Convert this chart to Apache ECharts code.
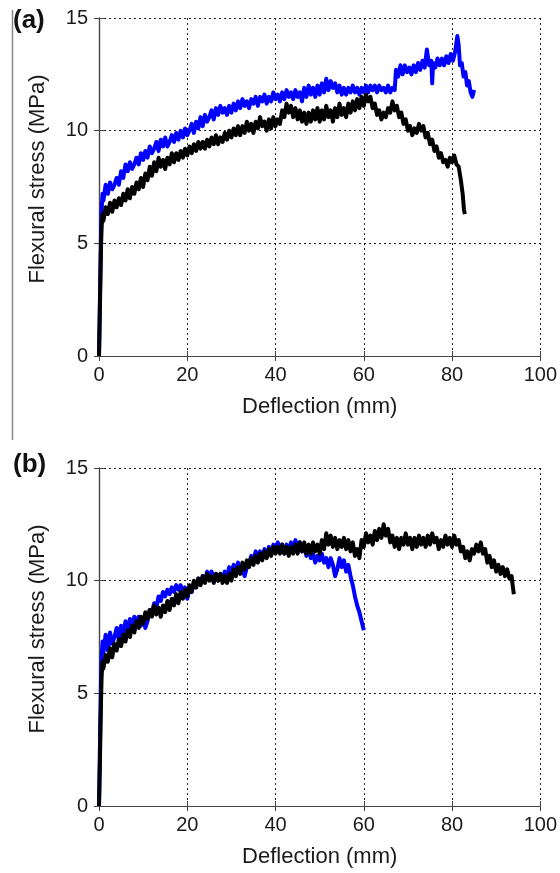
<!DOCTYPE html>
<html>
<head>
<meta charset="utf-8">
<script src="https://cdn.jsdelivr.net/npm/echarts@6/dist/echarts.min.js"></script>
<style>html,body{margin:0;padding:0;background:#fff}#c{width:560px;height:873px}</style>
</head>
<body>
<div id="c"></div>
<script>
var xTicks = [0, 20, 40, 60, 80, 100];
var yTicks = [0, 5, 10, 15];
var panelLabels = ['(a)', '(b)'];
var xTitle = 'Deflection (mm)';
var yTitle = 'Flexural stress (MPa)';

var blueA = [[0,0],[0.15,1.8],[0.3,3.6],[0.45,5.3],[0.6,6.5],[0.8,7.2],[1,6.9],[1.5,7.6],[2,7.2],[2.5,7.7],[3,7.4],[3.5,7.6],[4,7.9],[4.5,7.6],[5,8.2],[5.5,7.9],[6,8.5],[6.5,8.2],[7,8.6],[7.5,8.3],[8,8.5],[8.5,8.8],[9,8.5],[9.5,9.0],[10,8.7],[10.5,9.1],[11,8.8],[11.5,9.3],[12,9.0],[12.5,9.2],[13,9.5],[13.5,9.1],[14,9.6],[14.5,9.3],[15,9.7],[15.5,9.3],[16,9.5],[16.5,9.8],[17,9.5],[17.5,9.9],[18,9.6],[18.5,10.0],[19,9.7],[19.5,10.1],[20,9.8],[20.5,10.0],[21,10.3],[21.5,9.9],[22,10.4],[22.5,10.1],[23,10.6],[23.5,10.2],[24,10.7],[24.5,10.4],[25,10.6],[25.5,10.9],[26,10.5],[26.5,11.0],[27,10.7],[27.5,11.1],[28,10.8],[28.5,11.0],[29,10.7],[29.5,11.1],[30,10.8],[30.5,11.2],[31,10.9],[31.5,11.3],[32,11.0],[32.5,11.4],[33,11.1],[33.5,11.3],[34,11.0],[34.5,11.4],[35,11.2],[35.5,11.5],[36,11.1],[36.5,11.5],[37,11.3],[37.5,11.6],[38,11.2],[38.5,11.5],[39,11.3],[39.5,11.7],[40,11.4],[40.5,11.6],[41,11.3],[41.5,11.7],[42,11.4],[42.5,11.8],[43,11.5],[43.5,11.7],[44,11.4],[44.5,11.8],[45,11.5],[45.5,11.7],[46,11.3],[46.5,11.9],[47,11.5],[47.5,12.0],[48,11.6],[48.5,11.9],[49,11.5],[49.5,12.0],[50,11.6],[50.5,12.1],[51,11.7],[51.5,12.3],[52,11.8],[52.5,12.2],[53,11.9],[53.5,12.1],[54,11.7],[54.5,12.0],[55,11.6],[55.5,11.9],[56,11.6],[56.5,11.9],[57,11.7],[57.5,12.0],[58,11.7],[58.5,11.9],[59,11.6],[59.5,11.9],[60,11.7],[60.5,12.0],[61,11.7],[61.5,12.0],[62,11.8],[62.5,12.0],[63,11.7],[63.5,12.0],[64,11.8],[64.5,11.9],[65,11.7],[65.5,12.0],[66,11.7],[66.5,11.9],[67,11.8],[67.3,12.7],[67.8,12.4],[68.3,12.9],[68.8,12.5],[69.3,12.9],[69.8,12.6],[70.3,12.8],[70.8,12.5],[71.3,12.9],[71.8,12.6],[72.3,13.0],[72.8,12.7],[73.3,13.1],[73.8,12.8],[74.3,13.6],[74.8,12.9],[75.3,13.1],[75.5,12.1],[75.7,13.0],[76.2,12.8],[76.7,13.2],[77.2,12.9],[77.7,13.2],[78.2,12.9],[78.7,13.3],[79.2,13.0],[79.7,13.4],[80.2,13.1],[80.7,13.5],[81.2,14.2],[81.5,13.8],[81.8,12.9],[82.2,13.0],[82.6,12.4],[83.0,12.6],[83.4,12.0],[83.8,12.2],[84.2,11.7],[84.6,11.5],[85.0,11.8]];

var blackA = [[0,0],[0.15,1.5],[0.3,3.2],[0.45,4.8],[0.6,5.8],[0.8,6.3],[1,6.0],[1.5,6.6],[2,6.3],[2.5,6.8],[3,6.4],[3.5,6.9],[4,6.6],[4.5,7.0],[5,6.7],[5.5,7.2],[6,6.9],[6.5,7.4],[7,7.0],[7.5,7.5],[8,7.2],[8.5,7.7],[9,7.4],[9.5,7.9],[10,7.5],[10.5,8.1],[11,7.8],[11.5,8.4],[12,8.0],[12.5,8.6],[13,8.2],[13.5,8.8],[14,8.4],[14.5,8.7],[15,8.3],[15.5,8.8],[16,8.5],[16.5,9.0],[17,8.6],[17.5,9.0],[18,8.7],[18.5,9.1],[19,8.8],[19.5,9.2],[20,8.9],[20.5,9.3],[21,9.0],[21.5,9.4],[22,9.1],[22.5,9.5],[23,9.2],[23.5,9.5],[24,9.2],[24.5,9.6],[25,9.3],[25.5,9.7],[26,9.4],[26.5,9.8],[27,9.4],[27.5,9.7],[28,9.5],[28.5,9.9],[29,9.6],[29.5,10.0],[30,9.7],[30.5,10.1],[31,9.8],[31.5,10.2],[32,9.8],[32.5,10.2],[33,9.9],[33.5,10.4],[34,10.0],[34.5,10.3],[35,9.9],[35.5,10.4],[36,10.1],[36.5,10.6],[37,10.2],[37.5,10.4],[38,10.0],[38.5,10.5],[39,10.1],[39.5,10.6],[40,10.2],[40.5,10.5],[41,10.3],[41.5,10.9],[42,10.6],[42.5,11.2],[43,10.8],[43.5,11.1],[44,10.6],[44.5,11.0],[45,10.5],[45.5,10.9],[46,10.4],[46.5,10.8],[47,10.3],[47.5,10.8],[48,10.4],[48.5,10.9],[49,10.5],[49.5,11.0],[50,10.4],[50.5,10.9],[51,10.5],[51.5,11.1],[52,10.6],[52.5,10.9],[53,10.4],[53.5,11.0],[54,10.6],[54.5,11.2],[55,10.7],[55.5,11.0],[56,10.6],[56.5,11.2],[57,10.8],[57.5,11.3],[58,10.9],[58.5,11.4],[59,11.0],[59.5,11.5],[60,11.1],[60.5,11.6],[61,11.3],[61.5,11.5],[62,11.0],[62.5,11.2],[63,10.7],[63.5,10.9],[64,10.5],[64.5,10.8],[65,10.6],[65.5,11.0],[66,10.8],[66.5,11.3],[67,10.9],[67.5,11.1],[68,10.6],[68.5,10.8],[69,10.3],[69.5,10.5],[70,10.0],[70.5,10.2],[71,9.8],[71.5,10.1],[72,9.9],[72.5,10.3],[73,10.0],[73.5,10.2],[74,9.7],[74.5,9.9],[75,9.4],[75.5,9.6],[76,9.1],[76.5,9.3],[77,8.8],[77.5,9.0],[78,8.6],[78.5,8.7],[79,8.4],[79.5,8.8],[80,8.6],[80.5,8.9],[81,8.5],[81.5,8.4],[82,7.8],[82.4,7.2],[82.7,6.5],[82.9,6.3]];

var blueB = [[0,0],[0.15,1.8],[0.3,3.8],[0.45,5.5],[0.6,6.6],[0.8,7.3],[1,6.8],[1.5,7.6],[2,6.9],[2.5,7.7],[3,7.2],[3.5,7.5],[4,7.9],[4.5,7.4],[5,8.0],[5.5,7.6],[6,8.2],[6.5,7.8],[7,8.3],[7.5,8.0],[8,8.4],[8.5,8.1],[9,8.4],[9.5,8.0],[10,8.3],[10.5,7.9],[11,8.2],[11.5,8.7],[12,8.6],[12.5,9.0],[13,8.8],[13.5,9.3],[14,9.1],[14.5,9.5],[15,9.3],[15.5,9.6],[16,9.4],[16.5,9.7],[17,9.5],[17.5,9.8],[18,9.6],[18.5,9.8],[19,9.5],[19.5,9.7],[20,9.2],[20.5,9.6],[21,9.5],[21.5,9.9],[22,9.7],[22.5,10.1],[23,9.9],[23.5,10.2],[24,10.0],[24.5,10.4],[25,10.2],[25.5,10.4],[26,10.1],[26.5,10.3],[27,10.0],[27.5,10.3],[28,10.1],[28.5,10.4],[29,10.2],[29.5,10.6],[30,10.3],[30.5,10.7],[31,10.5],[31.5,10.8],[32,10.4],[32.5,10.5],[33,10.2],[33.5,10.6],[34,10.8],[34.5,11.1],[35,10.9],[35.5,11.3],[36,11.0],[36.5,11.3],[37,11.0],[37.5,11.4],[38,11.1],[38.5,11.5],[39,11.2],[39.5,11.6],[40,11.3],[40.5,11.7],[41,11.4],[41.5,11.6],[42,11.2],[42.5,11.6],[43,11.3],[43.5,11.7],[44,11.4],[44.5,11.8],[45,11.5],[45.5,11.7],[46,11.3],[46.5,11.5],[47,11.1],[47.5,11.4],[48,11.0],[48.5,11.2],[49,10.8],[49.5,11.1],[50,10.9],[50.5,11.2],[51,10.8],[51.5,11.0],[52,10.6],[52.5,11.0],[53,10.7],[53.5,10.2],[54,10.5],[54.5,11.0],[55,10.6],[55.5,10.9],[56,10.4],[56.5,10.7],[57,10.2],[57.5,9.8],[58,9.3],[58.5,8.9],[59,8.6],[59.5,8.2],[60,7.8]];

var blackB = [[0,0],[0.15,1.4],[0.3,3.0],[0.45,4.6],[0.6,5.8],[0.8,6.4],[1,6.1],[1.5,6.7],[2,6.4],[2.5,7.0],[3,6.6],[3.5,7.2],[4,6.9],[4.5,7.4],[5,7.1],[5.5,7.6],[6,7.3],[6.5,7.8],[7,7.5],[7.5,8.0],[8,7.7],[8.5,8.2],[9,7.9],[9.5,8.4],[10,8.1],[10.5,8.6],[11,8.3],[11.5,8.7],[12,8.4],[12.5,8.9],[13,8.5],[13.5,8.8],[14,8.4],[14.5,8.9],[15,8.6],[15.5,9.1],[16,8.7],[16.5,9.2],[17,8.9],[17.5,9.4],[18,9.0],[18.5,9.5],[19,9.2],[19.5,9.6],[20,9.3],[20.5,9.8],[21,9.5],[21.5,10.0],[22,9.7],[22.5,10.1],[23,9.8],[23.5,10.2],[24,9.9],[24.5,10.3],[25,10.0],[25.5,10.2],[26,9.9],[26.5,10.3],[27,10.0],[27.5,10.3],[28,9.9],[28.5,10.2],[29,9.9],[29.5,10.3],[30,10.0],[30.5,10.5],[31,10.2],[31.5,10.6],[32,10.3],[32.5,10.8],[33,10.5],[33.5,10.9],[34,10.6],[34.5,11.0],[35,10.7],[35.5,11.1],[36,10.8],[36.5,11.2],[37,10.9],[37.5,11.3],[38,11.0],[38.5,11.4],[39,11.1],[39.5,11.5],[40,11.2],[40.5,11.5],[41,11.2],[41.5,11.6],[42,11.2],[42.5,11.5],[43,11.1],[43.5,11.5],[44,11.2],[44.5,11.6],[45,11.2],[45.5,11.7],[46,11.3],[46.5,11.7],[47,11.2],[47.5,11.6],[48,11.2],[48.5,11.7],[49,11.3],[49.5,11.6],[50,11.2],[50.5,11.8],[51,11.4],[51.5,12.1],[52,11.6],[52.5,12.0],[53,11.5],[53.5,11.9],[54,11.4],[54.5,11.8],[55,11.5],[55.5,11.9],[56,11.4],[56.5,11.8],[57,11.3],[57.5,11.7],[58,11.1],[58.5,11.4],[59,11.0],[59.5,11.8],[60,11.5],[60.5,12.1],[61,11.7],[61.5,12.0],[62,11.6],[62.5,12.2],[63,11.8],[63.5,12.3],[64,11.9],[64.5,12.5],[65,12.0],[65.5,12.3],[66,11.7],[66.5,12.0],[67,11.5],[67.5,11.9],[68,11.4],[68.5,11.9],[69,11.6],[69.5,12.1],[70,11.6],[70.5,11.9],[71,11.4],[71.5,11.9],[72,11.5],[72.5,12.0],[73,11.6],[73.5,11.9],[74,11.5],[74.5,12.0],[75,11.6],[75.5,12.1],[76,11.7],[76.5,11.9],[77,11.4],[77.5,11.8],[78,11.5],[78.5,12.0],[79,11.6],[79.5,11.9],[80,11.5],[80.5,12.0],[81,11.6],[81.5,11.8],[82,11.3],[82.5,11.5],[83,11.0],[83.5,11.3],[84,10.9],[84.5,11.4],[85,11.2],[85.5,11.6],[86,11.3],[86.5,11.7],[87,11.2],[87.5,11.4],[88,10.8],[88.5,11.1],[89,10.6],[89.5,10.9],[90,10.4],[90.5,10.7],[91,10.3],[91.5,10.6],[92,10.2],[92.5,10.5],[93,10.1],[93.5,10.2],[93.8,9.7],[94,9.4]];

var FONT = '"Liberation Sans", Arial, Helvetica, sans-serif';
var chart = echarts.init(document.getElementById('c'), null, {renderer: 'canvas'});

var grids = [
  {left: 99, top: 18, width: 442, height: 338},
  {left: 99, top: 468, width: 442, height: 338}
];
var frameColor = '#444';
var gridLine = {show: true, lineStyle: {color: '#222', width: 1, type: [2, 3]}};

var xAxes = [], yAxes = [];
grids.forEach(function (g, i) {
  xAxes.push({
    gridIndex: i, type: 'value', min: xTicks[0], max: xTicks[xTicks.length - 1], interval: xTicks[1] - xTicks[0],
    position: 'bottom',
    name: xTitle, nameLocation: 'middle', nameGap: 40,
    nameTextStyle: {fontFamily: FONT, fontSize: 22, color: '#1a1a1a'},
    axisLine: {show: true, lineStyle: {color: frameColor, width: 1.2}},
    axisTick: {show: true, inside: true, length: 5, lineStyle: {color: frameColor}},
    axisLabel: {fontFamily: FONT, fontSize: 20, color: '#1a1a1a', margin: 9},
    splitLine: gridLine
  });
  xAxes.push({
    gridIndex: i, type: 'value', min: xTicks[0], max: xTicks[xTicks.length - 1], interval: xTicks[1] - xTicks[0],
    position: 'top',
    axisLine: {show: true, lineStyle: {color: frameColor, width: 1.2}},
    axisTick: {show: true, inside: true, length: 5, lineStyle: {color: frameColor}},
    axisLabel: {show: false}, splitLine: {show: false}
  });
  yAxes.push({
    gridIndex: i, type: 'value', min: yTicks[0], max: yTicks[yTicks.length - 1], interval: yTicks[1] - yTicks[0],
    position: 'left',
    axisLine: {show: true, lineStyle: {color: frameColor, width: 1.2}},
    axisTick: {show: true, inside: true, length: 5, lineStyle: {color: frameColor}},
    axisLabel: {fontFamily: FONT, fontSize: 20, color: '#1a1a1a', margin: 11},
    splitLine: gridLine
  });
  yAxes.push({
    gridIndex: i, type: 'value', min: yTicks[0], max: yTicks[yTicks.length - 1], interval: yTicks[1] - yTicks[0],
    position: 'right',
    axisLine: {show: true, lineStyle: {color: frameColor, width: 1.2}},
    axisTick: {show: true, inside: true, length: 5, lineStyle: {color: frameColor}},
    axisLabel: {show: false}, splitLine: {show: false}
  });
});

function lineSeries(data, color, gi) {
  return {
    type: 'line', data: data, xAxisIndex: gi * 2, yAxisIndex: gi * 2,
    showSymbol: false, symbol: 'none', smooth: false,
    lineStyle: {color: color, width: 4, join: 'round'}, z: 3
  };
}

var graphics = [
  {type: 'line', shape: {x1: 12.5, y1: 10, x2: 12.5, y2: 440}, style: {stroke: '#888', lineWidth: 1.5}}
];
grids.forEach(function (g, i) {
  graphics.push({
    type: 'text', left: 13, top: g.top - 10 + (i === 1 ? -6 : 0),
    style: {text: panelLabels[i], fontFamily: FONT, fontSize: 26, fontWeight: 'bold', fill: '#111'}
  });
  graphics.push({
    type: 'text', x: 38, y: g.top + g.height / 2 - 8, rotation: Math.PI / 2,
    style: {text: yTitle, fontFamily: FONT, fontSize: 22, fill: '#1a1a1a', align: 'center', verticalAlign: 'middle'}
  });
});

chart.setOption({
  animation: false,
  backgroundColor: '#fff',
  grid: grids,
  xAxis: xAxes,
  yAxis: yAxes,
  graphic: graphics,
  series: [
    lineSeries(blueA, '#0000ff', 0),
    lineSeries(blackA, '#000000', 0),
    lineSeries(blueB, '#0000ff', 1),
    lineSeries(blackB, '#000000', 1)
  ]
});
</script>
</body>
</html>
